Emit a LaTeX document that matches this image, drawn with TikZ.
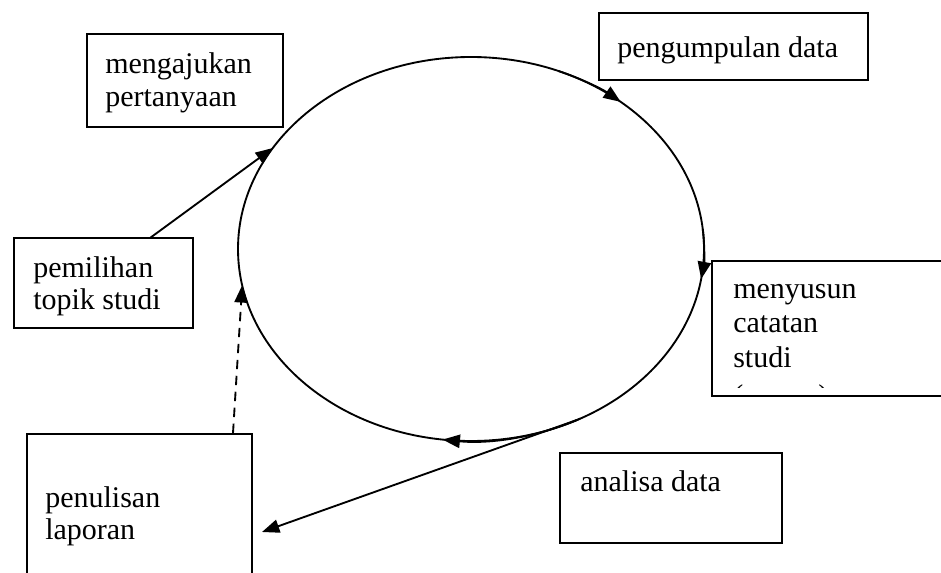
\documentclass[tikz,border=0pt]{standalone}
\usepackage{fontspec}
\setmainfont{Liberation Serif}
\usetikzlibrary{arrows.meta,shapes.geometric}
\begin{document}
\begin{tikzpicture}[x=0.75pt,y=-0.75pt,
  box/.style 2 args={draw, line width=1.3pt, inner sep=0pt, minimum width={#1*0.75pt}, minimum height={#2*0.75pt}},
  lbl/.style={anchor=base west, inner sep=0pt, font=\fontsize{22.5}{25.5}\selectfont},
  conn/.style={line width=1.4pt},
  tip/.style={-{Triangle[length=13pt,width=10pt]}}]
\useasboundingbox (0,0) rectangle (941,573);
\clip (0,0) rectangle (941,573);

% cycle
\node[draw, ellipse, line width=1.4pt, inner sep=0pt, outer sep=0pt,
      minimum width={466*0.75pt}, minimum height={384*0.75pt}] (cyc) at (471,249) {};

% boxes
\node[box={196}{93}]  (ask)     at (185,80.5) {};
\node[box={269}{67}]  (collect) at (733.5,46.5) {};
\node[box={179}{90}]  (topic)   at (103.5,283) {};
\node[box={248}{135}] (record)  at (836,328.5) {};
\node[box={222}{90}]  (analyze) at (671,498) {};
\node[box={225}{166}] (write)   at (139.5,517) {};

% texts
\node[lbl] (t1) at (105,74)  {mengajukan};
\node[lbl] (t2) at (105,107) {pertanyaan};
\node[lbl] (t3) at (617,58)  {pengumpulan data};
\node[lbl] (t4) at (33,277)  {pemilihan};
\node[lbl] (t5) at (33,310)  {topik studi};
\node[lbl] (t6) at (733,298) {menyusun};
\node[lbl] (t7) at (733,332) {catatan};
\node[lbl] (t8) at (733,367) {studi};
\begin{scope}
  \clip (712,370) rectangle (900,387);
  \node[lbl] (t9) at (733,405) {(memo)};
\end{scope}
\node[lbl] (t10) at (580,491) {analisa data};
\node[lbl] (t11) at (45,507)  {penulisan};
\node[lbl] (t12) at (45,539)  {laporan};

% free ends
\coordinate (topicTop) at (150,238);
\coordinate (writeTop) at (233,433);
\coordinate (writeTip) at (262,532);

% connectors
\draw[conn,tip] (topicTop) -- (cyc.153);
\draw[conn,tip,dashed,dash pattern=on 7pt off 5pt] (writeTop) -- (cyc.189);
\draw[conn,tip] (cyc.302) -- (writeTip);

% arrows along the cycle
\draw[conn,tip] (cyc.center) ++(-68:233 and 192) arc[start angle=-68, end angle=-50, x radius=233, y radius=192];
\draw[conn,tip] (cyc.center) ++(-6:233 and 192) arc[start angle=-6, end angle=9, x radius=233, y radius=192];
\draw[conn,tip] (cyc.center) ++(62:233 and 192) arc[start angle=62, end angle=97, x radius=233, y radius=192];
\end{tikzpicture}
\end{document}
